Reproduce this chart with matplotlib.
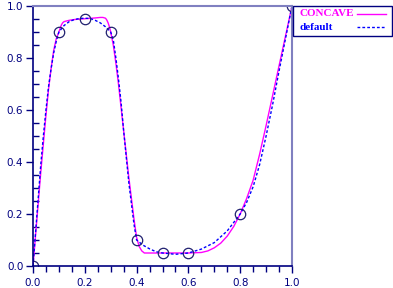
import matplotlib
matplotlib.use("Agg")
import matplotlib.pyplot as plt
from matplotlib.lines import Line2D
from matplotlib.patches import Rectangle
from matplotlib.ticker import MultipleLocator, FormatStrFormatter

# data points (circles)
pts_x = [0.0, 0.1, 0.2, 0.3, 0.4, 0.5, 0.6, 0.8, 1.0]
pts_y = [0.0, 0.9, 0.95, 0.9, 0.1, 0.05, 0.05, 0.2, 1.0]

# CONCAVE curve
concave_x = [0.0, 0.01, 0.02, 0.03, 0.04, 0.05, 0.06, 0.07, 0.08, 0.09, 0.1,
             0.105, 0.11, 0.115, 0.12, 0.14, 0.16, 0.2, 0.24, 0.26, 0.27, 0.28,
             0.285, 0.29, 0.295, 0.3, 0.31, 0.32, 0.33, 0.34, 0.35, 0.36, 0.37,
             0.38, 0.39, 0.4, 0.41, 0.42, 0.43, 0.5, 0.6, 0.65, 0.675, 0.7,
             0.725, 0.75, 0.775, 0.8, 0.825, 0.85, 0.875, 0.9, 0.925, 0.95,
             0.975, 1.0]
concave_y = [0.0, 0.12, 0.24, 0.36, 0.47, 0.58, 0.68, 0.76, 0.83, 0.875, 0.9,
             0.915, 0.928, 0.936, 0.94, 0.945, 0.948, 0.951, 0.954, 0.956, 0.956, 0.953,
             0.946, 0.935, 0.92, 0.9, 0.85, 0.78, 0.70, 0.61, 0.52, 0.43, 0.34,
             0.26, 0.18, 0.11, 0.075, 0.058, 0.05, 0.05, 0.05, 0.052, 0.058, 0.07,
             0.088, 0.115, 0.152, 0.2, 0.26, 0.33, 0.43, 0.54, 0.655, 0.77,
             0.885, 1.0]

# default curve
default_x = [0.0, 0.01, 0.02, 0.03, 0.04, 0.05, 0.06, 0.07, 0.08, 0.09, 0.1,
             0.12, 0.14, 0.16, 0.18, 0.2, 0.22, 0.24, 0.26, 0.28, 0.3,
             0.31, 0.32, 0.33, 0.34, 0.35, 0.36, 0.37, 0.38, 0.39, 0.4,
             0.425, 0.45, 0.475, 0.5, 0.55, 0.6, 0.65, 0.7, 0.75, 0.8,
             0.825, 0.85, 0.875, 0.9, 0.925, 0.95, 0.975, 1.0]
default_y = [0.0, 0.13, 0.26, 0.39, 0.5, 0.6, 0.69, 0.76, 0.82, 0.865, 0.9,
             0.925, 0.94, 0.948, 0.952, 0.953, 0.952, 0.945, 0.935, 0.92, 0.9,
             0.87, 0.8, 0.72, 0.63, 0.52, 0.42, 0.32, 0.24, 0.16, 0.1,
             0.08, 0.066, 0.055, 0.05, 0.045, 0.05, 0.065, 0.09, 0.135, 0.2,
             0.245, 0.305, 0.39, 0.5, 0.62, 0.75, 0.875, 1.0]

series_names = ["CONCAVE", "default"]
series_colors = ["#ff00ff", "#0000ff"]
series_styles = ["-", (0, (2, 1.5))]

navy = "#000080"
light = "#8080c0"
W, H = 393, 288

fig = plt.figure(figsize=(W/100, H/100), dpi=100)
ax = fig.add_axes([33/W, 22/H, 259/W, 260/H])

ax.plot(concave_x, concave_y, color=series_colors[0], lw=1.0, ls=series_styles[0])
ax.plot(default_x, default_y, color=series_colors[1], lw=1.0, ls=series_styles[1])
ax.plot(pts_x, pts_y, "o", mfc="none", mec="#202070", ms=7.5, mew=0.9)

ax.set_xlim(0, 1)
ax.set_ylim(0, 1)
ax.xaxis.set_major_locator(MultipleLocator(0.2))
ax.xaxis.set_minor_locator(MultipleLocator(0.05))
ax.yaxis.set_major_locator(MultipleLocator(0.2))
ax.yaxis.set_minor_locator(MultipleLocator(0.05))
ax.xaxis.set_major_formatter(FormatStrFormatter("%.1f"))
ax.yaxis.set_major_formatter(FormatStrFormatter("%.1f"))

ax.tick_params(axis="x", which="major", direction="out", length=5, width=1, color=navy,
               labelcolor=navy, labelsize=7.5, pad=4)
ax.tick_params(axis="x", which="minor", direction="out", length=4, width=1, color=navy)
ax.tick_params(axis="y", which="major", direction="out", length=5, width=1, color=navy,
               labelcolor=navy, labelsize=7.5, pad=2)
ax.tick_params(axis="y", which="minor", direction="in", length=4, width=1, color=navy)

for s in ["left", "bottom"]:
    ax.spines[s].set_color(navy)
    ax.spines[s].set_linewidth(1.2)
for s in ["top", "right"]:
    ax.spines[s].set_color(light)
    ax.spines[s].set_linewidth(1.5)

# legend box outside the axes, text left, sample line right
def fx(px):
    return px / W

def fy(py):
    return 1 - py / H

fig.patches.append(Rectangle((fx(293), fy(36)), fx(392) - fx(293), fy(6) - fy(36),
                             transform=fig.transFigure, fill=True, fc="white",
                             ec=navy, lw=1.0))
for i, (name, col, ls) in enumerate(zip(series_names, series_colors, series_styles)):
    yy = fy(14 + 13 * i)
    fig.text(fx(299), yy, name, color=col, ha="left", va="center",
             family="Liberation Serif", weight="bold", fontsize=8)
    fig.lines.append(Line2D([fx(357), fx(386)], [yy, yy], transform=fig.transFigure,
                            color=col, lw=1.0, ls=ls))

fig.savefig("out.png", dpi=100)
